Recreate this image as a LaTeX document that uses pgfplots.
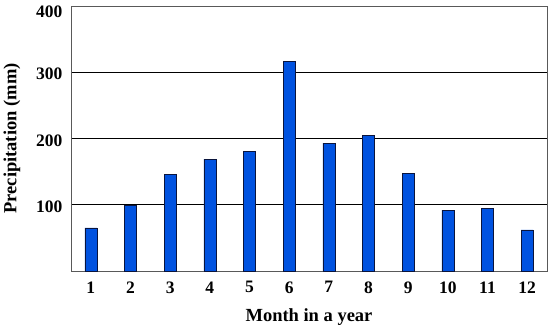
\documentclass[border=0pt]{standalone}
\usepackage{pgfplots}
\pgfplotsset{compat=1.18}
\usepackage{fontspec}
\setmainfont{Liberation Serif}
\definecolor{barblue}{RGB}{0,82,224}
\definecolor{baredge}{RGB}{10,20,60}
\begin{document}
\begin{tikzpicture}[x=1pt,y=1pt]
\begin{axis}[
  scale only axis,
  width=476pt, height=265pt,
  xmin=0.5, xmax=12.5,
  ymin=0, ymax=400,
  ytick={100,200,300},
  extra y ticks={400},
  extra y tick style={grid=none, yticklabel style={yshift=-4pt}},
  xtick={1,...,12},
  major tick length=0pt,
  ymajorgrids,
  grid style={black, line width=0.6pt},
  axis line style={gray!70!black, line width=0.6pt},
  /pgf/number format/assume math mode=true,
  ticklabel style={font=\fontsize{17.5}{20}\selectfont\bfseries},
  xticklabel style={yshift=-7pt},
  yticklabel style={xshift=-5pt, yshift=-2pt},
  xlabel={Month in a year},
  ylabel={Precipitation (mm)},
  label style={font=\fontsize{18.5}{21}\selectfont\bfseries},
  xlabel style={yshift=-8pt},
  ylabel style={yshift=9pt},
]
\addplot[ybar, bar width=12pt, fill=barblue, draw=baredge, line width=0.6pt]
coordinates {(1,65) (2,99) (3,146) (4,169) (5,180) (6,316) (7,193) (8,205) (9,147) (10,92) (11,94) (12,62)};
\end{axis}
\pgfresetboundingbox
\path ([shift={(-71pt,-58pt)}]current axis.south west) rectangle ([shift={(3pt,6pt)}]current axis.north east);
\end{tikzpicture}
\end{document}
